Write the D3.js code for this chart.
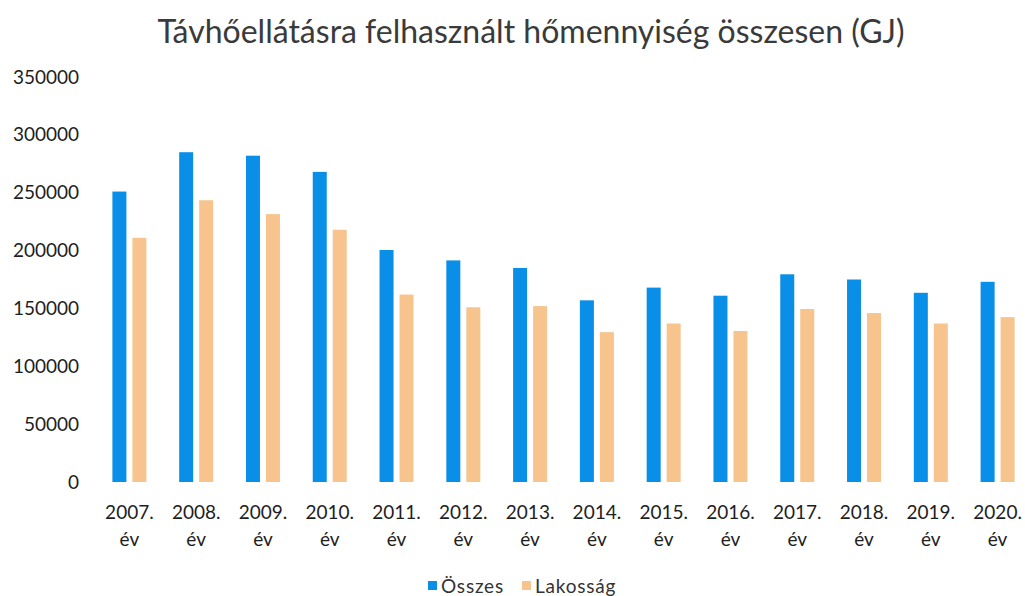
<!DOCTYPE html>
<html>
<head>
<meta charset="utf-8">
<script src="https://cdn.jsdelivr.net/npm/d3@7"></script>
<style>
  body { margin: 0; background: #fff; }
  text { font-family: Lato, "Open Sans", sans-serif; }
</style>
</head>
<body>
<svg id="graphic"></svg>
<script>
const years = ['2007.', '2008.', '2009.', '2010.', '2011.', '2012.', '2013.',
  '2014.', '2015.', '2016.', '2017.', '2018.', '2019.', '2020.'];
const seriesNames = ['Összes', 'Lakosság'];
const osszes = [251000, 285000, 282000, 268000, 200500, 191500, 185000,
  157000, 168000, 161000, 179500, 175000, 163500, 173000];
const lakossag = [211000, 243500, 231500, 218000, 162000, 151000, 152000,
  129500, 137000, 130500, 149500, 146000, 137000, 142500];
const yTicks = [0, 50000, 100000, 150000, 200000, 250000, 300000, 350000];

const colors = {'Összes': '#0a8fe8', 'Lakosság': '#f8c48e'};
const width = 1025;
const height = 596;

const svg = d3.select('#graphic')
    .attr('width', width)
    .attr('height', height);

const dta = years.map((y, i) => ({year: y, values: [
  {key: 'Összes', value: osszes[i]},
  {key: 'Lakosság', value: lakossag[i]},
]}));

const xScale = d3.scaleBand()
    .domain(years)
    .range([96, 1031]);

const xInner = d3.scaleBand()
    .domain(seriesNames)
    .range([-17, 17])
    .paddingInner(0.3);

const yScale = d3.scaleLinear()
    .domain([0, 350000])
    .range([482, 77]);

// title
svg.append('text')
    .attr('x', 531)
    .attr('y', 43)
    .attr('text-anchor', 'middle')
    .attr('font-size', 32)
    .attr('fill', '#3a3a3a')
    .text('Távhőellátásra felhasznált hőmennyiség összesen (GJ)');

// y axis, labels only
const yAxis = d3.axisLeft(yScale)
    .tickValues(yTicks)
    .tickSize(0)
    .tickPadding(0)
    .tickFormat((d) => String(d));

svg.append('g')
    .attr('transform', 'translate(79, 0)')
    .call(yAxis)
    .call((g) => g.select('.domain').remove())
    .selectAll('text')
    .attr('font-size', 19)
    .attr('fill', '#1e1e1e')
    .style('font-family', 'Lato, sans-serif');

// bars
const groups = svg.selectAll('.group')
    .data(dta)
    .enter()
    .append('g')
    .classed('group', true)
    .attr('transform', (d) => `translate(${xScale(d.year) + xScale.bandwidth() / 2}, 0)`);

groups.selectAll('rect')
    .data((d) => d.values)
    .enter()
    .append('rect')
    .attr('x', (d) => xInner(d.key))
    .attr('width', xInner.bandwidth())
    .attr('y', (d) => yScale(d.value))
    .attr('height', (d) => yScale(0) - yScale(d.value))
    .attr('fill', (d) => colors[d.key]);

// x axis labels, two lines
const xAxis = d3.axisBottom(xScale)
    .tickSize(0)
    .tickPadding(0);

svg.append('g')
    .attr('transform', 'translate(0, 505)')
    .call(xAxis)
    .call((g) => g.select('.domain').remove())
    .selectAll('.tick text')
    .attr('font-size', 19)
    .attr('fill', '#1e1e1e')
    .style('font-family', 'Lato, sans-serif')
    .each(function(d) {
      const t = d3.select(this).text('');
      t.append('tspan').attr('x', 0).attr('dy', '0.71em').text(d);
      t.append('tspan').attr('x', 0).attr('dy', '1.47em').text('év');
    });

// legend
const legend = svg.append('g')
    .attr('transform', 'translate(428, 586)');

const legendItems = legend.selectAll('.legend-item')
    .data(seriesNames)
    .enter()
    .append('g')
    .classed('legend-item', true)
    .attr('transform', (d, i) => `translate(${i * 94}, 0)`);

legendItems.append('rect')
    .attr('x', 0)
    .attr('y', -5)
    .attr('width', 9)
    .attr('height', 9)
    .attr('fill', (d) => colors[d]);

legendItems.append('text')
    .attr('x', 13)
    .attr('y', 7)
    .attr('font-size', 19)
    .attr('letter-spacing', 0.8)
    .attr('fill', '#333')
    .text((d) => d);
</script>
</body>
</html>
